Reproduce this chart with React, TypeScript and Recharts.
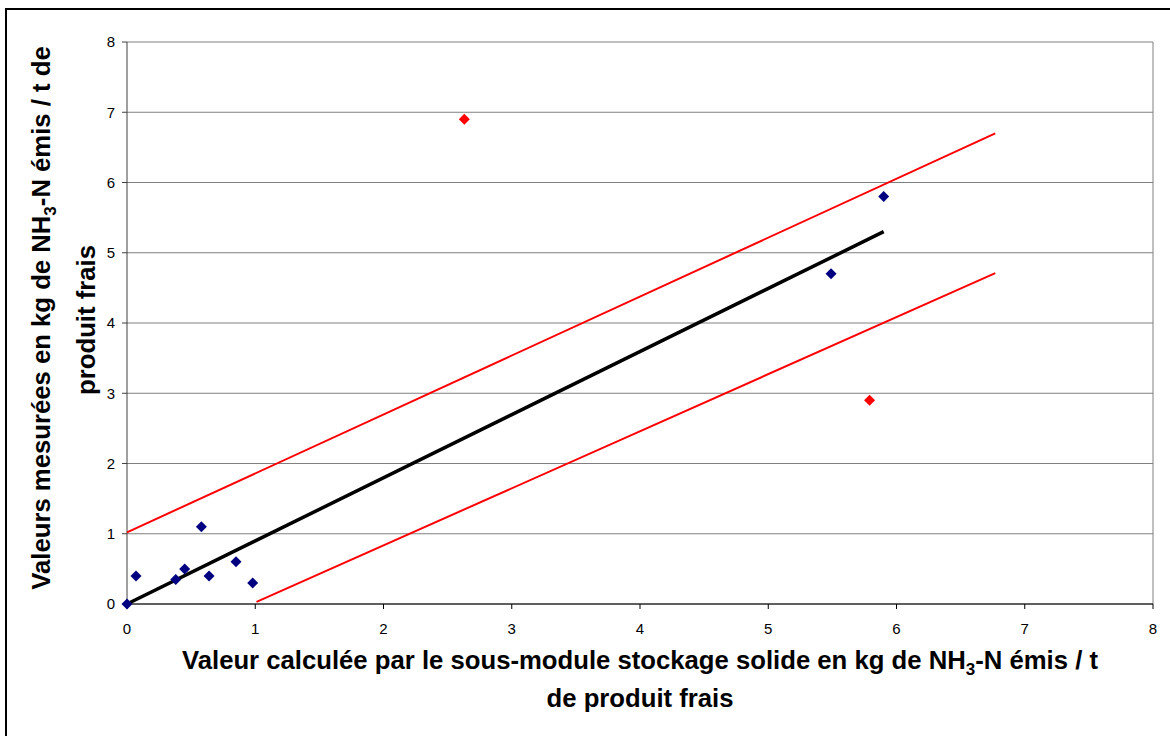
import {
  ScatterChart,
  Scatter,
  XAxis,
  YAxis,
  CartesianGrid,
  ReferenceLine,
} from 'recharts';

const axisTicks = [0, 1, 2, 3, 4, 5, 6, 7, 8];

// valeurs calculées (x) et mesurées (y)
const bleuX = [0, 0.07, 0.38, 0.45, 0.58, 0.64, 0.85, 0.98, 5.49, 5.9];
const bleuY = [0, 0.4, 0.35, 0.5, 1.1, 0.4, 0.6, 0.3, 4.7, 5.8];
const rougeX = [2.63, 5.79];
const rougeY = [6.9, 2.9];

// droites : régression et bornes +/- 1
const noirX = [0, 5.9];
const noirY = [0, 5.3];
const hautX = [0, 6.77];
const hautY = [1.02, 6.7];
const basX = [1.01, 6.77];
const basY = [0.03, 4.71];

const toPoints = (xs: number[], ys: number[]) => xs.map((x, i) => ({ x, y: ys[i] }));

const Diamond = (color: string) => (props: any) => {
  const { cx, cy } = props;
  const r = 5.5;
  return (
    <polygon
      points={`${cx},${cy - r} ${cx + r},${cy} ${cx},${cy + r} ${cx - r},${cy}`}
      fill={color}
    />
  );
};

const NoMark = () => <g />;

const font = 'Arial, "Liberation Sans", sans-serif';

const titleStyle = {
  position: 'absolute' as const,
  whiteSpace: 'nowrap' as const,
  fontSize: 25.7,
  fontWeight: 'bold' as const,
  lineHeight: '30px',
};

export default function App() {
  return (
    <div
      style={{
        position: 'fixed',
        left: 0,
        top: 0,
        width: 1170,
        height: 736,
        overflow: 'hidden',
        background: '#fff',
        fontFamily: font,
      }}
    >
      <div
        style={{
          position: 'absolute',
          left: 5,
          top: 8,
          width: 1200,
          height: 800,
          border: '2px solid #000',
          boxSizing: 'border-box',
        }}
      />
      <div style={{ position: 'absolute', left: 0, top: 0 }}>
        <ScatterChart
          width={1170}
          height={736}
          margin={{ top: 42, right: 17, left: 87, bottom: 102 }}
        >
          <CartesianGrid horizontal vertical={false} stroke="#808080" strokeWidth={1} />
          <XAxis
            type="number"
            dataKey="x"
            domain={[0, 8]}
            ticks={axisTicks}
            interval={0}
            height={30}
            tick={{ fontSize: 15, fill: '#000', fontFamily: font }}
            tickSize={5}
            tickMargin={14}
            stroke="#000"
          />
          <YAxis
            type="number"
            dataKey="y"
            domain={[0, 8]}
            ticks={axisTicks}
            interval={0}
            width={40}
            tick={{ fontSize: 15, fill: '#000', fontFamily: font }}
            tickSize={5}
            tickMargin={7}
            stroke="#404040"
          />
          <ReferenceLine x={8} stroke="#808080" />
          <Scatter
            data={toPoints(hautX, hautY)}
            line={{ stroke: '#ff0000', strokeWidth: 2 }}
            shape={NoMark}
            isAnimationActive={false}
          />
          <Scatter
            data={toPoints(basX, basY)}
            line={{ stroke: '#ff0000', strokeWidth: 2 }}
            shape={NoMark}
            isAnimationActive={false}
          />
          <Scatter
            data={toPoints(noirX, noirY)}
            line={{ stroke: '#000', strokeWidth: 3.5 }}
            shape={NoMark}
            isAnimationActive={false}
          />
          <Scatter data={toPoints(bleuX, bleuY)} shape={Diamond('#000080')} isAnimationActive={false} />
          <Scatter data={toPoints(rougeX, rougeY)} shape={Diamond('#ff0000')} isAnimationActive={false} />
        </ScatterChart>
      </div>
      {/* titre axe Y */}
      <div
        style={{
          ...titleStyle,
          left: 46,
          top: 318,
          transform: 'translate(-50%, -50%) rotate(-90deg)',
        }}
      >
        Valeurs mesurées en kg de NH<sub style={{ fontSize: 17 }}>3</sub>-N émis / t de
      </div>
      <div
        style={{
          ...titleStyle,
          left: 86,
          top: 320,
          transform: 'translate(-50%, -50%) rotate(-90deg)',
        }}
      >
        produit frais
      </div>
      {/* titre axe X */}
      <div
        style={{
          ...titleStyle,
          left: 640,
          top: 665,
          transform: 'translate(-50%, -50%)',
        }}
      >
        Valeur calculée par le sous-module stockage solide en kg de NH
        <sub style={{ fontSize: 17 }}>3</sub>-N émis / t
      </div>
      <div
        style={{
          ...titleStyle,
          left: 640,
          top: 698,
          transform: 'translate(-50%, -50%)',
        }}
      >
        de produit frais
      </div>
    </div>
  );
}
